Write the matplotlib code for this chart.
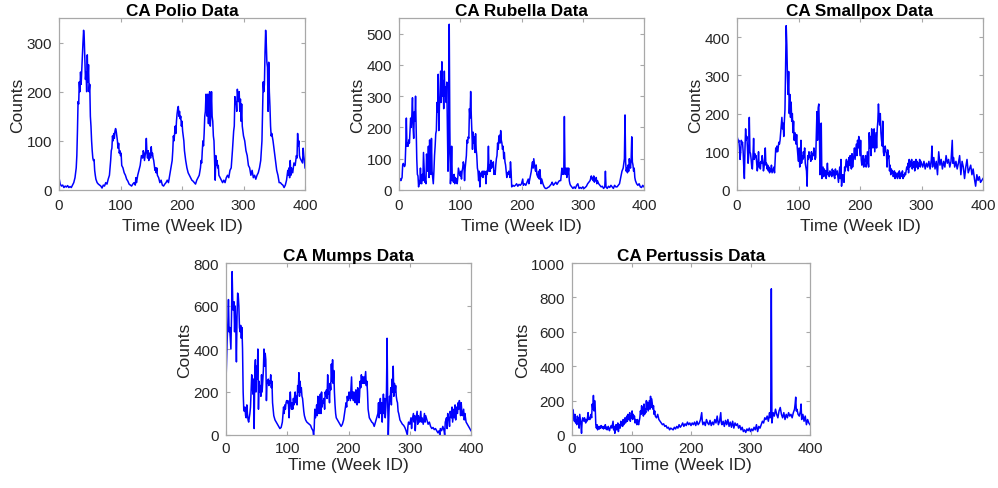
import matplotlib
matplotlib.use('Agg')
import matplotlib.pyplot as plt

plt.rcParams['font.family'] = ['Liberation Sans', 'DejaVu Sans']

# ---- weekly counts, as (week, count) ----
polio = [(0, 25), (2, 12), (4, 8), (6, 10), (8, 5), (10, 8), (12, 6), (14, 9), (16, 5), (18, 7), (20, 5),
         (22, 10), (24, 15), (26, 25), (28, 45), (29, 70), (30, 120), (31, 180), (32, 175), (33, 220),
         (34, 200), (35, 240), (36, 215), (37, 245), (38, 280), (39, 300), (40, 325), (41, 310), (42, 270),
         (43, 225), (44, 240), (45, 200), (46, 275), (47, 220), (48, 255), (49, 200), (50, 215), (51, 150),
         (52, 130), (53, 100), (54, 80), (55, 65), (56, 60), (57, 62), (58, 40), (59, 30), (60, 22), (62, 15),
         (64, 12), (66, 10), (68, 8), (70, 4), (72, 10), (74, 8), (76, 15), (78, 12), (80, 22), (82, 30),
         (84, 60), (85, 80), (86, 85), (87, 110), (88, 100), (89, 115), (90, 105), (91, 120), (92, 125),
         (93, 120), (94, 110), (95, 100), (96, 85), (97, 95), (98, 75), (99, 80), (100, 70), (101, 75),
         (102, 50), (104, 45), (106, 35), (108, 30), (110, 22), (112, 18), (114, 12), (116, 10), (118, 8),
         (120, 12), (122, 15), (124, 10), (125, 25), (126, 15), (128, 30), (130, 40), (132, 50), (134, 70),
         (136, 65), (137, 80), (138, 75), (139, 60), (140, 70), (141, 80), (142, 105), (143, 75), (144, 65),
         (145, 80), (146, 60), (147, 75), (148, 70), (149, 65), (150, 88), (151, 70), (152, 75), (153, 65),
         (154, 60), (155, 50), (156, 40), (157, 45), (158, 35), (159, 45), (160, 30), (162, 25), (164, 15),
         (166, 20), (168, 10), (170, 8), (172, 12), (174, 15), (176, 20), (178, 15), (180, 30), (182, 45),
         (184, 60), (185, 80), (186, 110), (187, 100), (188, 115), (189, 130), (190, 115), (191, 140),
         (192, 155), (193, 165), (194, 170), (195, 150), (196, 160), (197, 145), (198, 150), (199, 130),
         (200, 140), (201, 120), (202, 110), (203, 100), (204, 80), (206, 60), (208, 45), (210, 35), (212, 30),
         (214, 25), (216, 20), (218, 18), (220, 15), (222, 12), (224, 20), (226, 25), (228, 30), (230, 45),
         (231, 60), (232, 55), (233, 80), (234, 100), (235, 90), (236, 115), (237, 150), (238, 160), (239, 195),
         (240, 170), (241, 150), (242, 195), (243, 135), (244, 185), (245, 200), (246, 130), (247, 160),
         (248, 200), (249, 150), (250, 140), (251, 110), (252, 100), (253, 60), (254, 20), (255, 70), (256, 50),
         (257, 60), (258, 45), (259, 50), (260, 30), (262, 25), (264, 20), (266, 15), (268, 20), (270, 15),
         (272, 25), (274, 30), (276, 25), (278, 40), (280, 45), (282, 80), (284, 120), (285, 130), (286, 190),
         (287, 175), (288, 180), (289, 160), (290, 205), (291, 190), (292, 180), (293, 200), (294, 160),
         (295, 185), (296, 140), (297, 175), (298, 130), (299, 120), (300, 110), (302, 100), (304, 80),
         (306, 70), (308, 50), (310, 45), (312, 30), (314, 40), (316, 25), (318, 30), (320, 22), (322, 30),
         (324, 35), (326, 45), (328, 60), (330, 100), (331, 160), (332, 220), (333, 200), (334, 215), (335, 280),
         (336, 325), (337, 300), (338, 260), (339, 250), (340, 160), (341, 260), (342, 200), (343, 170),
         (344, 130), (345, 110), (346, 115), (348, 100), (350, 80), (352, 60), (354, 40), (356, 30), (358, 15),
         (360, 15), (362, 12), (364, 10), (366, 5), (368, 10), (370, 20), (372, 40), (373, 30), (374, 45),
         (375, 25), (376, 60), (377, 30), (378, 45), (380, 35), (382, 55), (384, 50), (386, 70), (387, 65),
         (388, 115), (389, 90), (390, 100), (391, 70), (392, 65), (394, 60), (396, 55), (397, 85), (398, 70),
         (399, 60), (400, 45)]

rubella = [(0, 40), (2, 35), (3, 30), (5, 40), (6, 80), (7, 85), (9, 75), (10, 80), (11, 140), (12, 230),
           (13, 140), (14, 150), (15, 140), (16, 160), (17, 150), (18, 190), (19, 230), (20, 200), (21, 240),
           (22, 295), (23, 200), (24, 165), (25, 250), (26, 220), (27, 300), (28, 200), (29, 100), (30, 50),
           (31, 45), (32, 10), (33, 30), (34, 20), (35, 70), (36, 25), (37, 20), (38, 50), (39, 30), (40, 120),
           (41, 70), (42, 25), (43, 30), (44, 20), (45, 115), (46, 80), (47, 60), (48, 140), (49, 40), (50, 160),
           (51, 80), (52, 50), (53, 165), (54, 60), (55, 40), (56, 20), (57, 60), (58, 110), (59, 140), (60, 180),
           (61, 190), (62, 280), (63, 250), (64, 370), (65, 190), (66, 270), (67, 300), (68, 380), (69, 280),
           (70, 410), (71, 300), (72, 350), (73, 260), (74, 380), (75, 300), (76, 330), (77, 280), (78, 345),
           (79, 200), (80, 60), (81, 120), (82, 530), (83, 200), (84, 20), (85, 60), (86, 140), (87, 30),
           (88, 45), (89, 25), (90, 50), (91, 20), (92, 40), (93, 30), (94, 35), (95, 20), (96, 40), (97, 70),
           (98, 60), (99, 50), (100, 45), (101, 60), (102, 35), (103, 60), (104, 70), (105, 90), (106, 80),
           (107, 30), (108, 70), (109, 90), (110, 110), (111, 160), (112, 150), (113, 170), (114, 165),
           (115, 260), (116, 230), (117, 315), (118, 240), (119, 180), (120, 130), (121, 185), (122, 150),
           (123, 170), (124, 120), (125, 180), (126, 130), (127, 110), (128, 70), (129, 60), (130, 30), (131, 60),
           (132, 10), (133, 40), (134, 55), (135, 45), (136, 60), (137, 40), (138, 60), (139, 50), (140, 60),
           (141, 55), (142, 20), (143, 60), (144, 50), (145, 75), (146, 140), (147, 60), (148, 80), (149, 60),
           (150, 95), (151, 70), (152, 85), (153, 75), (154, 90), (155, 50), (156, 60), (157, 50), (158, 80),
           (159, 100), (160, 110), (161, 150), (162, 130), (163, 170), (164, 175), (165, 150), (166, 190),
           (167, 160), (168, 150), (169, 130), (170, 140), (171, 100), (172, 120), (173, 90), (174, 80), (175, 60),
           (176, 40), (177, 55), (178, 50), (179, 60), (180, 55), (181, 40), (182, 90), (183, 60), (184, 10),
           (186, 15), (188, 12), (190, 15), (192, 20), (194, 12), (196, 18), (198, 15), (200, 20), (202, 35),
           (203, 15), (205, 20), (207, 15), (209, 25), (211, 35), (212, 20), (214, 40), (216, 60), (217, 80),
           (218, 90), (219, 70), (220, 100), (221, 85), (222, 70), (223, 60), (224, 80), (225, 50), (226, 45),
           (227, 40), (228, 60), (229, 35), (230, 65), (231, 40), (232, 20), (233, 35), (235, 20), (237, 10),
           (239, 5), (241, 5), (243, 8), (245, 10), (247, 15), (249, 20), (250, 25), (252, 15), (254, 20),
           (256, 25), (258, 18), (260, 25), (262, 30), (264, 30), (266, 70), (267, 50), (268, 60), (269, 50),
           (270, 235), (271, 60), (272, 50), (273, 70), (274, 40), (275, 70), (276, 50), (277, 70), (278, 30),
           (279, 20), (280, 15), (282, 10), (284, 5), (286, 10), (288, 5), (290, 15), (292, 20), (294, 5),
           (296, 8), (298, 5), (300, 10), (302, 5), (304, 8), (306, 12), (308, 20), (310, 25), (312, 30),
           (314, 45), (315, 35), (316, 40), (317, 30), (318, 45), (319, 25), (320, 35), (321, 30), (322, 40),
           (323, 20), (324, 30), (326, 20), (328, 15), (330, 10), (332, 12), (334, 5), (336, 10), (337, 60),
           (338, 10), (340, 5), (342, 12), (344, 8), (346, 15), (348, 10), (350, 5), (352, 15), (354, 10),
           (356, 10), (358, 15), (360, 20), (362, 40), (364, 60), (366, 70), (368, 100), (369, 240), (370, 90),
           (371, 60), (372, 70), (373, 55), (374, 80), (375, 60), (376, 100), (377, 80), (378, 70), (379, 100),
           (380, 170), (381, 90), (382, 80), (383, 60), (384, 70), (385, 40), (386, 30), (388, 20), (390, 15),
           (392, 20), (394, 10), (396, 8), (398, 15), (400, 10)]

smallpox = [(0, 140), (1, 135), (2, 125), (3, 130), (4, 110), (5, 80), (6, 100), (7, 130), (8, 120), (9, 125),
            (10, 100), (11, 60), (12, 30), (13, 110), (14, 160), (15, 130), (16, 140), (17, 110), (18, 70),
            (19, 90), (20, 190), (21, 100), (22, 95), (23, 80), (24, 60), (25, 55), (26, 90), (27, 135), (28, 80),
            (29, 95), (30, 85), (31, 90), (32, 70), (33, 50), (34, 65), (35, 100), (36, 60), (37, 70), (38, 55),
            (39, 75), (40, 70), (41, 90), (42, 75), (43, 50), (44, 60), (45, 80), (46, 110), (47, 65), (48, 70),
            (49, 55), (50, 65), (51, 50), (52, 60), (53, 45), (54, 55), (55, 50), (56, 65), (57, 45), (58, 50),
            (59, 55), (60, 60), (61, 45), (62, 80), (63, 110), (64, 100), (65, 115), (66, 100), (67, 110),
            (68, 125), (69, 120), (70, 130), (71, 150), (72, 170), (73, 190), (74, 160), (75, 175), (76, 140),
            (77, 180), (78, 210), (79, 330), (80, 430), (81, 380), (82, 300), (83, 250), (84, 310), (85, 200),
            (86, 250), (87, 190), (88, 230), (89, 180), (90, 200), (91, 150), (92, 180), (93, 130), (94, 150),
            (95, 130), (96, 120), (97, 145), (98, 110), (99, 90), (100, 75), (101, 110), (102, 60), (103, 85),
            (104, 130), (105, 70), (106, 90), (107, 80), (108, 100), (109, 85), (110, 110), (111, 70), (112, 60),
            (113, 50), (114, 10), (115, 90), (116, 80), (117, 100), (118, 85), (119, 90), (120, 75), (121, 100),
            (122, 80), (123, 95), (124, 90), (125, 110), (126, 100), (127, 80), (128, 85), (129, 150), (130, 205),
            (131, 130), (132, 215), (133, 225), (134, 150), (135, 40), (136, 60), (137, 175), (138, 30), (139, 45),
            (140, 60), (141, 35), (142, 55), (143, 40), (144, 50), (145, 30), (146, 45), (147, 70), (148, 40),
            (149, 45), (150, 35), (151, 50), (152, 40), (153, 45), (154, 35), (155, 55), (156, 40), (157, 50),
            (158, 35), (159, 30), (160, 55), (161, 40), (162, 45), (163, 50), (164, 35), (165, 20), (166, 40),
            (167, 60), (168, 30), (169, 80), (170, 10), (171, 30), (172, 40), (173, 35), (174, 20), (175, 60),
            (176, 50), (177, 70), (178, 80), (179, 60), (180, 75), (181, 50), (182, 85), (183, 65), (184, 90),
            (185, 70), (186, 55), (187, 95), (188, 60), (189, 80), (190, 90), (191, 110), (192, 80), (193, 100),
            (194, 120), (195, 90), (196, 130), (197, 110), (198, 140), (199, 115), (200, 90), (201, 130),
            (202, 80), (203, 65), (204, 70), (205, 90), (206, 60), (207, 80), (208, 75), (209, 90), (210, 60),
            (211, 70), (212, 100), (213, 80), (214, 60), (215, 150), (216, 110), (217, 140), (218, 90), (219, 160),
            (220, 120), (221, 110), (222, 145), (223, 160), (224, 100), (225, 125), (226, 150), (227, 110),
            (228, 160), (229, 180), (230, 225), (231, 190), (232, 170), (233, 200), (234, 150), (235, 130),
            (236, 115), (237, 180), (238, 100), (239, 90), (240, 110), (241, 115), (242, 100), (243, 95),
            (244, 60), (245, 105), (246, 85), (247, 90), (248, 50), (249, 65), (250, 40), (251, 55), (252, 45),
            (253, 50), (254, 35), (255, 40), (256, 50), (257, 30), (258, 45), (259, 35), (260, 40), (261, 30),
            (262, 45), (263, 35), (264, 50), (265, 30), (266, 40), (267, 45), (268, 35), (269, 50), (270, 30),
            (271, 40), (272, 35), (273, 45), (274, 40), (275, 50), (276, 60), (277, 55), (278, 70), (279, 45),
            (280, 80), (281, 60), (282, 75), (283, 65), (284, 80), (285, 55), (286, 70), (287, 60), (288, 75),
            (289, 50), (290, 70), (291, 80), (292, 60), (293, 75), (294, 55), (295, 70), (296, 65), (297, 80),
            (298, 60), (299, 75), (300, 70), (302, 60), (304, 75), (306, 55), (308, 70), (310, 60), (312, 75),
            (314, 55), (316, 80), (317, 115), (318, 60), (320, 85), (322, 55), (324, 75), (326, 40), (328, 100),
            (330, 65), (332, 80), (334, 55), (336, 75), (338, 60), (340, 90), (342, 70), (344, 80), (346, 60),
            (348, 75), (350, 130), (351, 70), (352, 85), (354, 60), (356, 75), (358, 55), (360, 70), (362, 90),
            (364, 40), (366, 75), (368, 60), (370, 30), (372, 60), (374, 80), (376, 45), (378, 55), (380, 65),
            (382, 40), (384, 55), (386, 30), (388, 10), (390, 40), (392, 25), (394, 35), (396, 20), (398, 25),
            (400, 30)]

mumps = [(0, 250), (1, 350), (2, 450), (3, 520), (4, 630), (5, 480), (6, 500), (7, 450), (8, 400), (9, 550),
         (10, 760), (11, 620), (12, 580), (13, 620), (14, 480), (15, 600), (16, 500), (17, 340), (18, 550),
         (19, 660), (20, 650), (21, 600), (22, 500), (23, 480), (24, 510), (25, 450), (26, 500), (27, 400),
         (28, 200), (29, 120), (30, 110), (31, 130), (32, 90), (33, 80), (34, 140), (35, 100), (36, 70), (37, 60),
         (38, 80), (39, 100), (40, 130), (41, 200), (42, 280), (43, 230), (44, 190), (45, 260), (46, 30),
         (47, 300), (48, 350), (49, 200), (50, 320), (51, 260), (52, 400), (53, 120), (54, 250), (55, 200),
         (56, 230), (57, 180), (58, 280), (59, 200), (60, 250), (61, 300), (62, 400), (63, 320), (64, 380),
         (65, 350), (66, 160), (67, 250), (68, 240), (69, 260), (70, 230), (71, 250), (72, 240), (73, 280),
         (74, 220), (75, 250), (76, 150), (77, 120), (78, 90), (80, 70), (82, 60), (84, 50), (86, 40), (88, 30),
         (90, 35), (92, 60), (94, 130), (95, 100), (96, 140), (97, 120), (98, 150), (99, 160), (100, 150),
         (101, 160), (102, 140), (103, 80), (104, 150), (105, 200), (106, 140), (107, 120), (108, 150),
         (109, 120), (110, 170), (111, 140), (112, 180), (113, 200), (114, 150), (115, 180), (116, 140),
         (117, 230), (118, 200), (119, 290), (120, 180), (121, 250), (122, 200), (123, 220), (124, 180),
         (125, 170), (126, 140), (127, 110), (128, 90), (130, 70), (132, 60), (134, 55), (136, 50), (138, 45),
         (140, 30), (142, 20), (143, 0), (144, 30), (145, 120), (146, 80), (147, 100), (148, 140), (149, 90),
         (150, 180), (151, 130), (152, 100), (153, 150), (154, 190), (155, 100), (156, 200), (157, 130),
         (158, 160), (159, 150), (160, 170), (161, 120), (162, 200), (163, 180), (164, 210), (165, 170),
         (166, 280), (167, 190), (168, 200), (169, 150), (170, 240), (171, 210), (172, 330), (173, 250),
         (174, 350), (175, 240), (176, 300), (177, 200), (178, 140), (179, 100), (180, 80), (182, 70), (184, 60),
         (186, 50), (188, 40), (190, 50), (192, 70), (194, 110), (196, 150), (197, 130), (198, 180), (199, 160),
         (200, 170), (201, 200), (202, 180), (203, 160), (204, 220), (205, 270), (206, 170), (207, 200),
         (208, 160), (209, 200), (210, 170), (211, 150), (212, 210), (213, 190), (214, 140), (215, 220),
         (216, 200), (217, 150), (218, 180), (219, 250), (220, 220), (221, 280), (222, 240), (223, 270),
         (224, 240), (225, 270), (226, 240), (227, 270), (228, 295), (229, 230), (230, 250), (231, 200),
         (232, 120), (233, 100), (234, 80), (236, 70), (238, 60), (240, 55), (242, 40), (244, 60), (246, 80),
         (248, 100), (249, 150), (250, 80), (251, 130), (252, 170), (253, 100), (254, 150), (255, 60),
         (256, 120), (257, 190), (258, 100), (259, 170), (260, 80), (261, 130), (262, 200), (263, 450),
         (264, 150), (265, 0), (266, 100), (267, 180), (268, 160), (269, 220), (270, 140), (271, 260),
         (272, 200), (273, 320), (274, 180), (275, 240), (276, 200), (277, 230), (278, 180), (279, 160),
         (280, 150), (281, 110), (282, 100), (284, 70), (286, 60), (288, 50), (290, 45), (292, 35), (294, 20),
         (296, 0), (297, 40), (298, 60), (300, 50), (302, 80), (303, 30), (304, 70), (306, 100), (307, 60),
         (308, 90), (309, 20), (310, 70), (312, 110), (313, 50), (314, 90), (316, 60), (318, 110), (319, 60),
         (320, 80), (322, 50), (324, 100), (325, 60), (326, 90), (328, 70), (330, 50), (332, 60), (334, 40),
         (336, 30), (338, 35), (340, 25), (342, 30), (344, 20), (346, 10), (348, 20), (349, 0), (350, 30),
         (352, 20), (354, 40), (356, 20), (357, 0), (358, 60), (360, 80), (361, 30), (362, 100), (364, 70),
         (365, 40), (366, 110), (368, 80), (369, 130), (370, 60), (372, 120), (373, 80), (374, 140), (375, 70),
         (376, 130), (378, 100), (379, 150), (380, 120), (381, 160), (382, 140), (383, 90), (384, 150),
         (385, 110), (386, 90), (388, 120), (389, 70), (390, 100), (392, 60), (394, 50), (396, 40), (398, 30),
         (400, 20)]

pertussis = [(0, 120), (1, 150), (2, 140), (3, 100), (4, 80), (5, 120), (6, 70), (7, 90), (8, 60), (9, 110),
             (10, 80), (11, 100), (12, 40), (13, 120), (14, 90), (15, 60), (16, 10), (17, 80), (18, 100), (19, 90),
             (20, 80), (21, 100), (22, 85), (23, 70), (24, 90), (25, 80), (26, 100), (27, 130), (28, 90),
             (29, 100), (30, 90), (31, 110), (32, 120), (33, 100), (34, 180), (35, 150), (36, 230), (37, 140),
             (38, 200), (39, 160), (40, 60), (41, 40), (42, 60), (43, 30), (44, 50), (45, 40), (46, 35), (47, 50),
             (48, 40), (49, 55), (50, 45), (51, 40), (52, 50), (53, 35), (54, 45), (55, 40), (56, 60), (57, 35),
             (58, 45), (59, 30), (60, 40), (61, 50), (62, 35), (63, 25), (64, 40), (65, 45), (66, 55), (67, 40),
             (68, 60), (69, 80), (70, 30), (71, 50), (72, 10), (73, 40), (74, 60), (75, 30), (76, 45), (77, 70),
             (78, 20), (79, 50), (80, 60), (81, 40), (82, 80), (83, 55), (84, 70), (85, 50), (86, 90), (87, 60),
             (88, 80), (89, 100), (90, 70), (91, 90), (92, 110), (93, 80), (94, 120), (95, 90), (96, 100),
             (97, 130), (98, 80), (99, 110), (100, 100), (101, 140), (102, 90), (103, 120), (104, 100), (105, 110),
             (106, 70), (107, 90), (108, 80), (109, 60), (110, 90), (111, 70), (112, 60), (113, 80), (114, 100),
             (115, 140), (116, 120), (117, 170), (118, 130), (119, 160), (120, 110), (121, 180), (122, 120),
             (123, 150), (124, 130), (125, 200), (126, 150), (127, 190), (128, 140), (129, 170), (130, 200),
             (131, 150), (132, 225), (133, 160), (134, 210), (135, 180), (136, 150), (137, 170), (138, 120),
             (139, 140), (140, 110), (142, 100), (144, 120), (146, 90), (148, 80), (150, 70), (152, 60), (154, 65),
             (156, 50), (158, 55), (160, 40), (162, 45), (164, 30), (166, 40), (168, 35), (170, 30), (172, 45),
             (174, 35), (176, 50), (178, 40), (180, 60), (182, 45), (184, 55), (186, 70), (188, 50), (190, 65),
             (192, 55), (194, 75), (196, 60), (198, 70), (200, 55), (202, 70), (204, 60), (206, 75), (208, 55),
             (210, 80), (212, 60), (214, 70), (216, 90), (218, 130), (219, 80), (220, 60), (222, 75), (224, 55),
             (226, 90), (228, 70), (230, 60), (232, 85), (234, 55), (236, 75), (238, 60), (240, 90), (242, 70),
             (244, 110), (246, 60), (248, 80), (250, 130), (251, 70), (252, 60), (254, 80), (256, 50), (258, 85),
             (260, 60), (262, 90), (264, 50), (266, 75), (268, 45), (270, 80), (272, 40), (274, 70), (276, 55),
             (278, 65), (280, 40), (282, 55), (284, 30), (286, 45), (288, 20), (290, 30), (292, 15), (294, 35),
             (296, 25), (298, 40), (300, 20), (302, 35), (304, 25), (306, 45), (308, 30), (310, 60), (312, 20),
             (314, 50), (316, 40), (318, 60), (320, 80), (322, 70), (324, 100), (326, 90), (328, 110), (330, 80),
             (332, 130), (333, 100), (334, 120), (335, 850), (336, 70), (337, 100), (338, 130), (340, 110),
             (342, 150), (344, 120), (346, 100), (348, 140), (350, 160), (352, 120), (354, 100), (356, 130),
             (358, 90), (360, 120), (362, 100), (364, 130), (366, 110), (368, 120), (370, 100), (372, 130),
             (374, 150), (375, 180), (376, 220), (377, 140), (378, 150), (380, 120), (382, 110), (384, 140),
             (385, 180), (386, 90), (388, 120), (390, 80), (392, 110), (394, 60), (396, 90), (398, 70), (400, 60)]

titles = ['CA Polio Data', 'CA Rubella Data', 'CA Smallpox Data', 'CA Mumps Data', 'CA Pertussis Data']
series = [polio, rubella, smallpox, mumps, pertussis]
ymaxes = [350, 550, 450, 800, 1000]
ysteps = [100, 100, 100, 200, 200]

# axes boxes in pixels: left, top, right, bottom
W, H = 998, 489
boxes = [(59, 19, 305, 191), (399, 19, 644, 191), (737, 19, 983, 191),
         (226, 264, 471, 436), (572, 264, 810, 436)]
top_row = [True, True, True, False, False]

txt = '#262626'
edge = '#a8a8a8'
fig = plt.figure(figsize=(W / 100, H / 100), dpi=100)
for title, data, ymax, ystep, (l, t, r, b), top in zip(titles, series, ymaxes, ysteps, boxes, top_row):
    wk = [p[0] for p in data]
    cnt = [p[1] for p in data]
    ax = fig.add_axes([l / W, 1 - b / H, (r - l) / W, (b - t) / H])
    ax.plot(wk, cnt, color=(0, 0, 1), linewidth=1.1)
    ax.set_xlim(0, 400)
    ax.set_ylim(0, ymax)
    ax.set_xticks([0, 100, 200, 300, 400])
    ax.set_yticks(list(range(0, ymax + 1, ystep)))
    ax.tick_params(direction='in', length=3, width=0.8, color=edge, labelcolor=txt,
                   labelsize=11, top=True, right=True)
    ax.tick_params(axis='x', pad=6 if top else 4)
    ax.tick_params(axis='y', pad=5)
    for s in ax.spines.values():
        s.set_color(edge)
        s.set_linewidth(0.9)
    ax.set_title(title, fontsize=12.3, fontweight='bold', color='black', pad=2)
    ax.set_ylabel('Counts', fontsize=12.5, color=txt, labelpad=1)
    ax.set_xlabel('Time (Week ID)', fontsize=12.5, color=txt, labelpad=4 if top else 2)

fig.savefig('out.png', dpi=100)
